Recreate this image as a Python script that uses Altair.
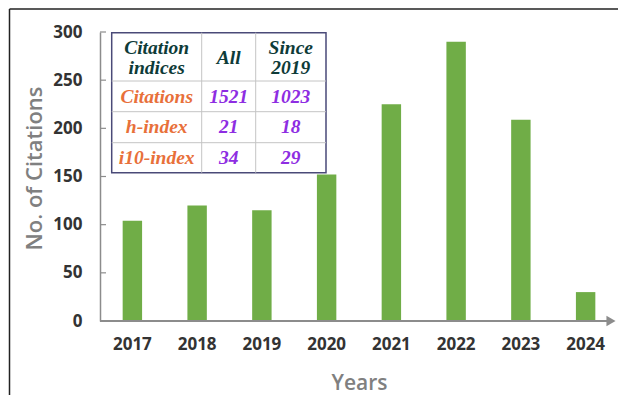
import altair as alt
import pandas as pd

# ---- data ----
years = ["2017", "2018", "2019", "2020", "2021", "2022", "2023", "2024"]
citations = [104, 120, 115, 152, 225, 290, 209, 30]
y_ticks = [0, 50, 100, 150, 200, 250, 300]

table_header = ["Citation\nindices", "All", "Since\n2019"]
table_rows = ["Citations", "h-index", "i10-index"]
table_all = ["1521", "21", "34"]
table_since = ["1023", "18", "29"]

# ---- layout (pixels, relative to plot origin) ----
W, H = 518, 289
col_centers = [56.7, 128.7, 190.8]
row_centers = [25.5, 64.5, 95.2, 126.2]
line_h = 20
tbl_left, tbl_right, tbl_top, tbl_bottom = 11.7, 226.0, 0.7, 140.7
col_dividers = [101.7, 155.7]
row_dividers = [49.0, 79.7, 110.7]

HEAD_C = "#0E3B38"
ROW_C = "#E8703A"
VAL_C = "#8E2DE2"
SANS = "Open Sans"

bars_df = pd.DataFrame({"year": years, "citations": citations})

base_x = alt.X("year:N", sort=years,
               scale=alt.Scale(paddingInner=0.70, paddingOuter=0.35),
               axis=alt.Axis(title="Years", domain=False, ticks=False,
                             labelAngle=0, labelPadding=15,
                             labelFont=SANS, labelFontSize=17,
                             labelFontWeight="bold", labelColor="#333333",
                             titleFont=SANS, titleFontSize=21,
                             titleFontWeight=600, titleColor="#808080",
                             titleY=68, titleBaseline="alphabetic"))
base_y = alt.Y("citations:Q", scale=alt.Scale(domain=[0, 300], nice=False),
               axis=alt.Axis(title="No. of Citations", values=y_ticks,
                             grid=False, ticks=False, domainColor="#8C8C8C",
                             domainWidth=1.5, labelPadding=18,
                             labelFont=SANS, labelFontSize=17,
                             labelFontWeight="bold", labelColor="#333333",
                             titleFont=SANS, titleFontSize=22,
                             titleFontWeight=600, titleColor="#808080",
                             titleX=-66, titleY=136, titleAngle=270,
                             titleBaseline="middle"))

bars = alt.Chart(bars_df).mark_bar(color="#70AD47").encode(x=base_x, y=base_y)

ticks_df = pd.DataFrame({"v": y_ticks})
yticks = alt.Chart(ticks_df).mark_rule(color="#8C8C8C", strokeWidth=1.2).encode(
    y=alt.Y("v:Q"), x=alt.value(0), x2=alt.value(6))

axis_line = alt.Chart(bars_df).mark_rule(color="#8C8C8C", strokeWidth=2).encode(
    x=alt.value(0), x2=alt.value(508), y=alt.value(H))
arrow = alt.Chart(pd.DataFrame({"a": [0]})).mark_point(
    shape="triangle-right", filled=True, color="#8C8C8C", size=110, opacity=1
).encode(x=alt.value(511), y=alt.value(H))

# frame lines
frame_left = alt.Chart(pd.DataFrame({"a": [0]})).mark_rule(color="#222222", strokeWidth=1.5).encode(
    x=alt.value(-90.5), y=alt.value(-23), y2=alt.value(363))
frame_top = alt.Chart(pd.DataFrame({"a": [0]})).mark_rule(color="#222222", strokeWidth=1.5).encode(
    x=alt.value(-90.5), x2=alt.value(W), y=alt.value(-23))

# table
box_df = pd.DataFrame({"x": [tbl_left], "x2": [tbl_right], "y": [tbl_top], "y2": [tbl_bottom]})
box = alt.Chart(box_df).mark_rect(fill="white", stroke="#4A4A78", strokeWidth=1.5).encode(
    x=alt.X("x:Q", scale=None, axis=None), x2="x2:Q",
    y=alt.Y("y:Q", scale=None, axis=None), y2="y2:Q")

lines = []
for cx in col_dividers:
    lines.append({"x": cx, "x2": cx, "y": tbl_top, "y2": tbl_bottom})
for ry in row_dividers:
    lines.append({"x": tbl_left, "x2": tbl_right, "y": ry, "y2": ry})
grid = alt.Chart(pd.DataFrame(lines)).mark_rule(color="#C4C4C4", strokeWidth=1).encode(
    x=alt.X("x:Q", scale=None, axis=None), x2="x2:Q",
    y=alt.Y("y:Q", scale=None, axis=None), y2="y2:Q")

cells = []
for i, h in enumerate(table_header):
    parts = h.split("\n")
    n = len(parts)
    for k, p in enumerate(parts):
        cells.append({"t": p, "x": col_centers[i],
                      "y": row_centers[0] - (n - 1) * line_h / 2 + k * line_h,
                      "c": HEAD_C})
for r, name in enumerate(table_rows):
    cells.append({"t": name, "x": col_centers[0], "y": row_centers[r + 1], "c": ROW_C})
    cells.append({"t": table_all[r], "x": col_centers[1], "y": row_centers[r + 1], "c": VAL_C})
    cells.append({"t": table_since[r], "x": col_centers[2], "y": row_centers[r + 1], "c": VAL_C})
text = alt.Chart(pd.DataFrame(cells)).mark_text(
    font="Liberation Serif", fontSize=19.5, fontWeight="bold", fontStyle="italic",
    align="center", baseline="middle"
).encode(
    x=alt.X("x:Q", scale=None, axis=None),
    y=alt.Y("y:Q", scale=None, axis=None),
    text="t:N",
    color=alt.Color("c:N", scale=None))

chart = alt.layer(frame_left, frame_top, bars, yticks, axis_line, arrow, box, grid, text).properties(
    width=W, height=H,
    padding={"left": 100, "top": 32, "right": 0, "bottom": 74},
    autosize=alt.AutoSizeParams(type="none"),
    background="white",
).configure_view(stroke=None)

chart.save("out.html", embed_options={"renderer": "svg", "actions": False})
